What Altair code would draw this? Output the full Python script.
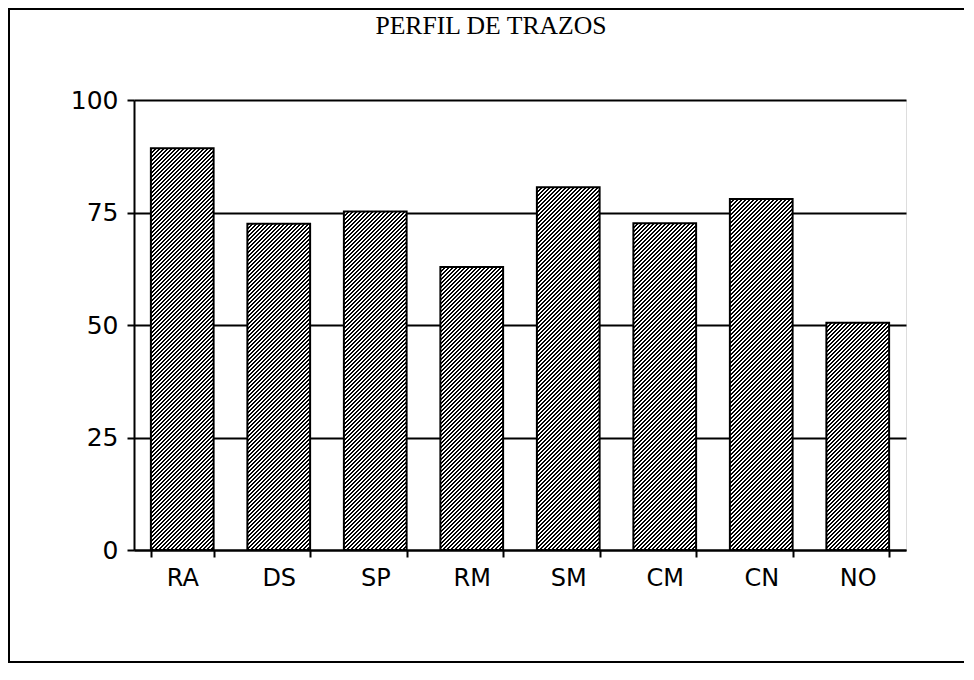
import altair as alt
import pandas as pd

# ---- data ----
categories = ["RA", "DS", "SP", "RM", "SM", "CM", "CN", "NO"]
values = [89.3, 72.5, 75.2, 62.9, 80.6, 72.6, 78.0, 50.5]
y_ticks = [0, 25, 50, 75, 100]
title_text = "PERFIL DE TRAZOS"

df = pd.DataFrame({"cat": categories, "val": values})

# ---- layout ----
PLOT_W = 772
PLOT_H = 450
PAD_L, PAD_T, PAD_R, PAD_B = 126, 92, 58, 114
P_INNER = 0.35
STEP = PLOT_W / len(categories)
BAR_W = STEP * (1 - P_INNER)
HATCH_PERIOD = 4.0   # in (px + py) units
INK = 0.5            # share of each period that is black


def hatch(h, w=BAR_W):
    """Diagonal '/' hatching as a striped linear gradient for a bar of w x h px."""
    s = (w + h) / (w * w + h * h)
    n = (w + h) / HATCH_PERIOD
    stops = []
    k = 0
    while k / n < 1:
        a = k / n
        b = min((k + INK) / n, 1.0)
        c = min((k + 1) / n, 1.0)
        stops += [
            alt.GradientStop(offset=a, color="black"),
            alt.GradientStop(offset=b, color="black"),
            alt.GradientStop(offset=b, color="white"),
            alt.GradientStop(offset=c, color="white"),
        ]
        k += 1
    return alt.LinearGradient(
        gradient="linear", stops=stops, x1=0, y1=0, x2=s * w, y2=s * h
    )


x_enc = alt.X(
    "cat:N",
    sort=categories,
    scale=alt.Scale(domain=categories, paddingInner=P_INNER, paddingOuter=P_INNER / 2),
    axis=alt.Axis(
        title=None,
        labelAngle=0,
        labelFont="DejaVu Sans",
        labelFontSize=24,
        labelColor="black",
        labelPadding=9,
        tickBand="extent",
        tickSize=7,
        tickWidth=2,
        tickColor="black",
        domainColor="black",
        domainWidth=2,
        grid=False,
    ),
)
y_enc = alt.Y(
    "val:Q",
    scale=alt.Scale(domain=[0, 100], nice=False, zero=True),
    axis=alt.Axis(
        title=None,
        values=y_ticks,
        labelFont="DejaVu Sans",
        labelFontSize=25,
        labelColor="black",
        labelPadding=9,
        tickSize=7,
        tickWidth=2,
        tickColor="black",
        domainColor="black",
        domainWidth=2,
        grid=True,
        gridColor="black",
        gridWidth=2,
        gridOpacity=1,
    ),
)

frame = (
    alt.Chart(pd.DataFrame({"f": [0]}))
    .mark_rect(fillOpacity=0, stroke="black", strokeWidth=2)
    .encode(
        x=alt.value(-125), x2=alt.value(831), y=alt.value(-91), y2=alt.value(562)
    )
)

layers = [frame]
for c, v in zip(categories, values):
    layers.append(
        alt.Chart(df)
        .transform_filter(alt.datum.cat == c)
        .mark_bar(fill=hatch(v * PLOT_H / 100), stroke="black", strokeWidth=2)
        .encode(x=x_enc, y=y_enc)
    )

chart = (
    alt.layer(*layers)
    .properties(
        width=PLOT_W,
        height=PLOT_H,
        padding={"left": PAD_L, "top": PAD_T, "right": PAD_R, "bottom": PAD_B},
        autosize=alt.AutoSizeParams(type="none"),
        title=alt.Title(
            title_text,
            font="Liberation Serif",
            fontSize=25.7,
            fontWeight="normal",
            color="black",
            anchor="middle",
            frame="group",
            baseline="alphabetic",
            dx=-29,
            offset=-52,
        ),
    )
    .configure_view(stroke=None)
    .configure(background="white")
)

chart.save("out.html", embed_options={"renderer": "svg", "actions": False})
